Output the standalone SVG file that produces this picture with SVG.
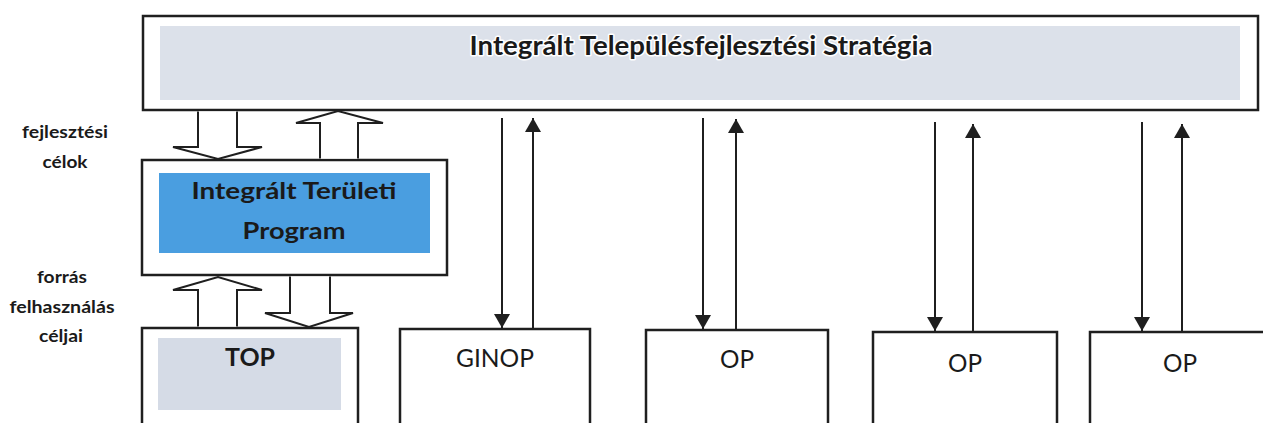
<svg xmlns="http://www.w3.org/2000/svg" width="1263" height="423" viewBox="0 0 1263 423">
<style>
.box{fill:#fff;stroke:#1f1f1f;stroke-width:2.5}
.blk{fill:#fff;stroke:#1f1f1f;stroke-width:2;stroke-linejoin:miter}
.ln{fill:none;stroke:#1f1f1f;stroke-width:2}
.bt{font-family:Lato,"Open Sans","Liberation Sans",sans-serif;font-weight:bold;fill:#1a1a1a;text-anchor:middle}
.rt{font-family:Lato,"Open Sans","Liberation Sans",sans-serif;fill:#1a1a1a;text-anchor:middle;font-size:25px}
.lab{font-family:Lato,"Open Sans","Liberation Sans",sans-serif;font-weight:bold;fill:#1a1a1a;text-anchor:middle;font-size:17px}
.halo{stroke:#fff;stroke-width:3;paint-order:stroke;stroke-linejoin:round}
</style>
<defs>
<marker id="ah" viewBox="0 0 14 16" refX="14" refY="8" markerWidth="14" markerHeight="16" markerUnits="userSpaceOnUse" orient="auto">
<path d="M0,0 L14,8 L0,16 Z" fill="#1f1f1f"/>
</marker>
</defs>
<rect width="1263" height="423" fill="#fff"/>

<g id="its">
<rect class="box" x="143" y="16" width="1115" height="94"/>
<rect x="160" y="26" width="1080" height="74" fill="#dce1ea"/>
<text class="bt halo" x="701" y="55" font-size="26" textLength="463" lengthAdjust="spacingAndGlyphs">Integrált Településfejlesztési Stratégia</text>
</g>

<g id="itp">
<rect class="box" x="142" y="160" width="305" height="115"/>
<rect x="159" y="173" width="271" height="80" fill="#4a9ee0"/>
<text class="bt" x="294" y="199" font-size="23" textLength="205" lengthAdjust="spacingAndGlyphs">Integrált Területi</text>
<text class="bt" x="294" y="239" font-size="23" textLength="103" lengthAdjust="spacingAndGlyphs">Program</text>
</g>

<g id="top">
<rect class="box" x="142" y="328" width="216" height="110"/>
<rect x="158" y="338" width="183" height="72" fill="#d5dbe6"/>
<text class="bt" x="250" y="366" font-size="24" textLength="50" lengthAdjust="spacingAndGlyphs">TOP</text>
</g>

<g id="ginop">
<rect class="box" x="400" y="329" width="190" height="110"/>
<text class="rt" x="495" y="367" textLength="78" lengthAdjust="spacingAndGlyphs">GINOP</text>
</g>

<g id="op1">
<rect class="box" x="646" y="330" width="182" height="110"/>
<text class="rt" x="737" y="368" textLength="34" lengthAdjust="spacingAndGlyphs">OP</text>
</g>

<g id="op2">
<rect class="box" x="873" y="332" width="184" height="110"/>
<text class="rt" x="965" y="372" textLength="34" lengthAdjust="spacingAndGlyphs">OP</text>
</g>

<g id="op3">
<rect class="box" x="1090" y="332" width="190" height="110"/>
<text class="rt" x="1180" y="372" textLength="34" lengthAdjust="spacingAndGlyphs">OP</text>
</g>

<g id="labels">
<text class="lab" x="65" y="138" textLength="86" lengthAdjust="spacingAndGlyphs">fejlesztési</text>
<text class="lab" x="65" y="168" textLength="45" lengthAdjust="spacingAndGlyphs">célok</text>
<text class="lab" x="62" y="283" textLength="50" lengthAdjust="spacingAndGlyphs">forrás</text>
<text class="lab" x="62" y="313" textLength="105" lengthAdjust="spacingAndGlyphs">felhasználás</text>
<text class="lab" x="61" y="342" textLength="44" lengthAdjust="spacingAndGlyphs">céljai</text>
</g>

<g id="connectors">
<path class="blk" d="M198,111.5 L198,147 L173,147 L218,159 L262,147 L237,147 L237,111.5"/>
<path class="blk" d="M320,158.5 L320,123 L296,123 L338,111 L383,123 L358,123 L358,158.5"/>
<path class="blk" d="M198,326.5 L198,290 L173,290 L218,277 L262,290 L237,290 L237,326.5"/>
<path class="blk" d="M290,276.5 L290,313 L265,313 L309,327 L353,313 L330,313 L330,276.5"/>

<line class="ln" x1="502" y1="118" x2="502" y2="328" marker-end="url(#ah)"/>
<line class="ln" x1="533" y1="328" x2="533" y2="118" marker-end="url(#ah)"/>
<line class="ln" x1="703" y1="118" x2="703" y2="329" marker-end="url(#ah)"/>
<line class="ln" x1="736" y1="329" x2="736" y2="119" marker-end="url(#ah)"/>
<line class="ln" x1="935" y1="122" x2="935" y2="331" marker-end="url(#ah)"/>
<line class="ln" x1="973" y1="331" x2="973" y2="124" marker-end="url(#ah)"/>
<line class="ln" x1="1142" y1="122" x2="1142" y2="331" marker-end="url(#ah)"/>
<line class="ln" x1="1182" y1="331" x2="1182" y2="124" marker-end="url(#ah)"/>
</g>
</svg>
